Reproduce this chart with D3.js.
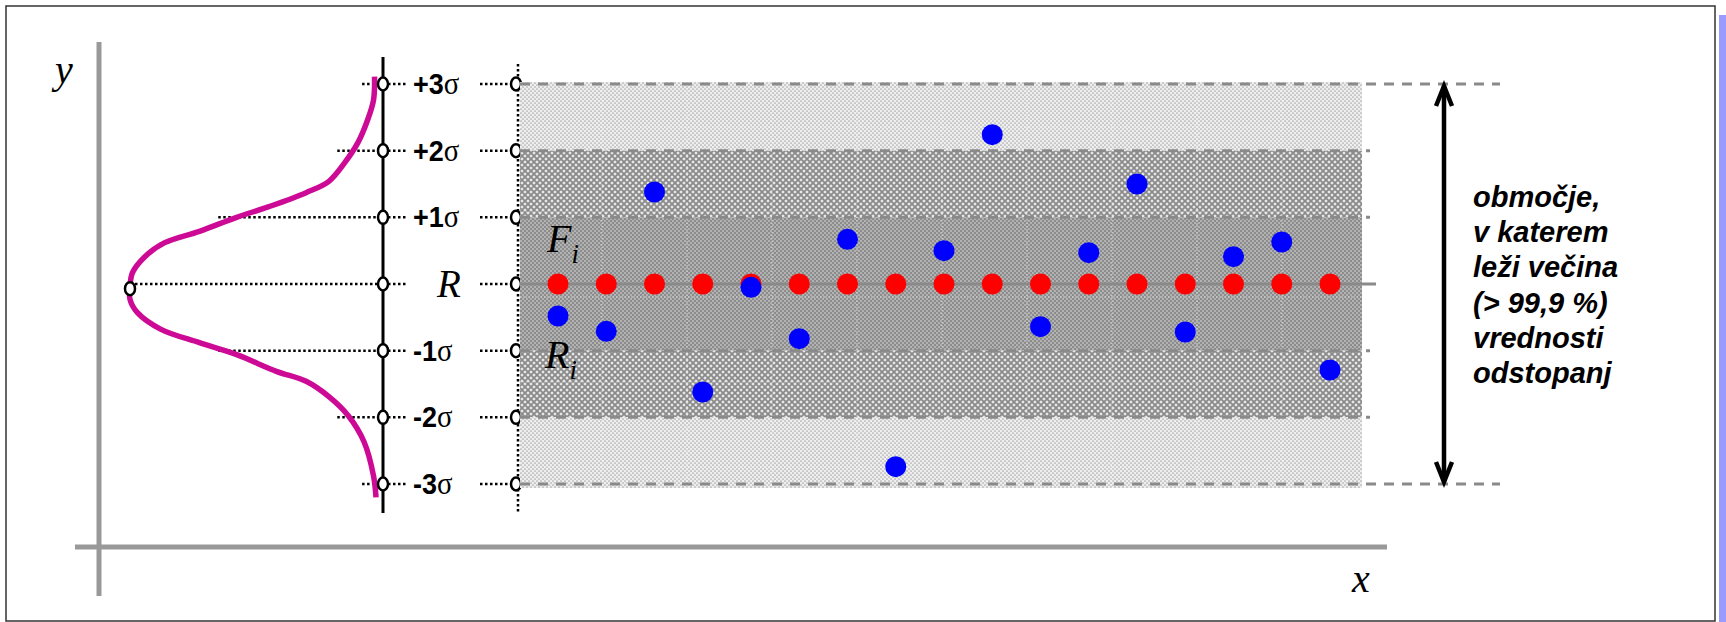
<!DOCTYPE html>
<html>
<head>
<meta charset="utf-8">
<script src="https://cdn.jsdelivr.net/npm/d3@7"></script>
<style>
  body { margin: 0; background: #fff; }
</style>
</head>
<body>
<div id="chart"></div>
<script>
// chart data

var levels = [3, 2, 1, 0, -1, -2, -3];
var levelText = ["+3", "+2", "+1", "R", "-1", "-2", "-3"];
// where the dotted leader starts on the left, in density units
var leaderStart = [0.04, 0.14, 0.62, 1.0, 0.62, 0.14, 0.04];

var samples = [1, 2, 3, 4, 5, 6, 7, 8, 9, 10, 11, 12, 13, 14, 15, 16, 17];
var refValues = [0, 0, 0, 0, 0, 0, 0, 0, 0, 0, 0, 0, 0, 0, 0, 0, 0];
var devValues = [-0.48, -0.71, 1.38, -1.62, -0.05, -0.82, 0.67, -2.74, 0.50, 2.24,
  -0.64, 0.47, 1.50, -0.72, 0.41, 0.63, -1.29];

// bell curve, sigma vs. relative density
var curveSigma = [3.11, 2.76, 2.46, 2.12, 1.82, 1.54, 1.37, 1.16, 1.00, 0.79, 0.62, 0.41, 0.17,
  -0.04, -0.23, -0.43, -0.68, -0.88, -1.06, -1.31, -1.46, -1.69, -1.98, -2.37, -2.88, -3.20];
var curveDensity = [0.014, 0.018, 0.042, 0.081, 0.134, 0.198, 0.29, 0.44, 0.57, 0.72, 0.86, 0.94, 0.99,
  1.00, 1.00, 0.97, 0.875, 0.72, 0.57, 0.41, 0.29, 0.198, 0.119, 0.056, 0.018, 0.008];

var zoneTop = [3, 2, 1, -1, -2];
var zoneBottom = [2, 1, -1, -2, -3];
var zoneFill = ["dots", "cross", "checker", "cross", "dots"];

var noteLines = ["območje,", "v katerem", "leži večina", "(> 99,9 %)", "vrednosti", "odstopanj"];

var svgWidth = 1726;
var svgHeight = 622;

var svg = d3.select("#chart")
  .append("svg")
  .attr("width", svgWidth)
  .attr("height", svgHeight);

// scales

var yScale = d3.scaleLinear().domain([-3, 3]).range([484, 84]);
var xScale = d3.scaleLinear().domain([1, 17]).range([558, 1330]);
var densScale = d3.scaleLinear().domain([0, 1]).range([378, 130]);

var axisX = 383;      // black sigma axis
var colX = 516;       // second column of circles
var bandLeft = 520;
var bandRight = 1362;

// patterns

var defs = svg.append("defs");

var p1 = defs.append("pattern").attr("id", "dots")
  .attr("patternUnits", "userSpaceOnUse").attr("width", 4).attr("height", 4);
p1.append("rect").attr("width", 4).attr("height", 4).attr("fill", "#eeeeee");
p1.append("circle").attr("cx", 1).attr("cy", 1).attr("r", 0.85).attr("fill", "#aaaaaa");
p1.append("circle").attr("cx", 3).attr("cy", 3).attr("r", 0.85).attr("fill", "#aaaaaa");

var p2 = defs.append("pattern").attr("id", "cross")
  .attr("patternUnits", "userSpaceOnUse").attr("width", 6).attr("height", 6);
p2.append("rect").attr("width", 6).attr("height", 6).attr("fill", "#a4a4a4");
p2.append("path").attr("d", "M0,0L6,6M6,0L0,6").attr("stroke", "#8a8a8a").attr("stroke-width", 1);
[[0, 3], [6, 3], [3, 0], [3, 6]].forEach(function (c) {
  p2.append("circle").attr("cx", c[0]).attr("cy", c[1]).attr("r", 1.1).attr("fill", "#f6f6f6");
});

var p3 = defs.append("pattern").attr("id", "checker")
  .attr("patternUnits", "userSpaceOnUse").attr("width", 4).attr("height", 4);
p3.append("rect").attr("width", 4).attr("height", 4).attr("fill", "#8c8c8c");
p3.append("rect").attr("width", 2).attr("height", 2).attr("fill", "#b2b2b2");
p3.append("rect").attr("x", 2).attr("y", 2).attr("width", 2).attr("height", 2).attr("fill", "#b2b2b2");

// frame

svg.append("rect")
  .attr("x", 6).attr("y", 6)
  .attr("width", 1709).attr("height", 615)
  .attr("fill", "none")
  .attr("stroke", "#333")
  .attr("stroke-width", 1.5);

svg.append("rect")
  .attr("x", 1719).attr("y", 15)
  .attr("width", 7).attr("height", 607)
  .attr("fill", "#9a9aff");

// gray x / y axes

svg.append("line")
  .attr("x1", 99).attr("x2", 99).attr("y1", 42).attr("y2", 596)
  .attr("stroke", "#999").attr("stroke-width", 5);

svg.append("line")
  .attr("x1", 75).attr("x2", 1387).attr("y1", 547).attr("y2", 547)
  .attr("stroke", "#999").attr("stroke-width", 5);

svg.append("text")
  .attr("x", 55).attr("y", 83)
  .style("font-family", "Liberation Serif, serif")
  .style("font-style", "italic")
  .style("font-size", "40px")
  .text("y");

svg.append("text")
  .attr("x", 1352).attr("y", 592)
  .style("font-family", "Liberation Serif, serif")
  .style("font-style", "italic")
  .style("font-size", "40px")
  .text("x");

// dotted leaders

var leaders = svg.append("g")
  .attr("stroke", "#000")
  .attr("stroke-width", 2.5)
  .attr("stroke-dasharray", "2.5,2.5");

levels.forEach(function (lv, i) {
  var y = yScale(lv);
  leaders.append("line")
    .attr("x1", densScale(leaderStart[i]) - (i == 3 ? 0 : 6)).attr("x2", axisX)
    .attr("y1", y).attr("y2", y);
  leaders.append("line")
    .attr("x1", axisX).attr("x2", 408)
    .attr("y1", y).attr("y2", y);
  leaders.append("line")
    .attr("x1", 480).attr("x2", colX)
    .attr("y1", y).attr("y2", y);
});

leaders.append("line")
  .attr("x1", 518).attr("x2", 518).attr("y1", 64).attr("y2", 512);

// black sigma axis

svg.append("line")
  .attr("x1", axisX).attr("x2", axisX).attr("y1", 57).attr("y2", 513)
  .attr("stroke", "#000").attr("stroke-width", 3);

// bell curve

var curvePoints = curveSigma.map(function (s, i) { return [s, curveDensity[i]]; });

var curveLine = d3.line()
  .x(d => densScale(d[1]))
  .y(d => yScale(d[0]))
  .curve(d3.curveCatmullRom);

svg.append("path")
  .datum(curvePoints)
  .attr("d", curveLine)
  .attr("fill", "none")
  .attr("stroke", "#cc0a96")
  .attr("stroke-width", 5.5);

// circles on the axes

var peak = curvePoints[d3.maxIndex(curvePoints, d => d[1])];

svg.append("ellipse")
  .attr("cx", densScale(peak[1])).attr("cy", yScale(peak[0]) + 2)
  .attr("rx", 5).attr("ry", 6.5)
  .attr("fill", "#fff").attr("stroke", "#000").attr("stroke-width", 2.5);

svg.selectAll(".axisDot")
  .data(levels)
  .enter()
  .append("ellipse")
  .attr("cx", axisX).attr("cy", d => yScale(d))
  .attr("rx", 5).attr("ry", 6.5)
  .attr("fill", "#fff").attr("stroke", "#000").attr("stroke-width", 2.5);

svg.selectAll(".colDot")
  .data(levels)
  .enter()
  .append("ellipse")
  .attr("cx", colX).attr("cy", d => yScale(d))
  .attr("rx", 5).attr("ry", 6.5)
  .attr("fill", "#fff").attr("stroke", "#000").attr("stroke-width", 2.5);

// sigma labels

var labels = svg.selectAll(".lvl")
  .data(levels)
  .enter()
  .append("text")
  .attr("transform", (d, i) => i == 3
    ? `translate(437, ${yScale(d) + 13})`
    : `translate(413, ${yScale(d) + 10}) scale(0.9, 1)`);

labels.each(function (d, i) {
  var t = d3.select(this);
  if (d == 0) {
    t.style("font-family", "Liberation Serif, serif")
      .style("font-style", "italic")
      .style("font-size", "39px")
      .text(levelText[i]);
  } else {
    t.append("tspan")
      .style("font-family", "Liberation Sans, Arial, sans-serif")
      .style("font-weight", "bold")
      .style("font-size", "30px")
      .text(levelText[i]);
    t.append("tspan")
      .style("font-family", "Liberation Serif, serif")
      .style("font-size", "32px")
      .text("σ");
  }
});

// shaded zones

svg.selectAll(".zone")
  .data(zoneTop)
  .enter()
  .append("rect")
  .attr("x", bandLeft)
  .attr("y", d => yScale(d) - (d == 3 ? 2 : 0))
  .attr("width", bandRight - bandLeft)
  .attr("height", (d, i) => yScale(zoneBottom[i]) - yScale(d) + (i == 4 ? 4 : 0) + (d == 3 ? 2 : 0))
  .attr("fill", (d, i) => "url(#" + zoneFill[i] + ")");

// faint grid inside the band

var grid = svg.append("g")
  .attr("stroke", "#fff")
  .attr("stroke-opacity", 0.55)
  .attr("stroke-width", 1)
  .attr("stroke-dasharray", "1,2");

d3.range(602, bandRight, 85).forEach(function (gx) {
  grid.append("line").attr("x1", gx).attr("x2", gx)
    .attr("y1", yScale(3) - 2).attr("y2", yScale(-3) + 4);
});
d3.range(127, 480, 85).forEach(function (gy) {
  grid.append("line").attr("x1", bandLeft).attr("x2", bandRight)
    .attr("y1", gy).attr("y2", gy);
});

// dashed limits and the R line

var dashed = svg.append("g")
  .attr("stroke", "#8a8a8a")
  .attr("stroke-width", 3)
  .attr("stroke-dasharray", "10,8");

levels.forEach(function (lv) {
  if (lv == 0) return;
  var end = Math.abs(lv) == 3 ? 1500 : 1370;
  dashed.append("line")
    .attr("x1", bandLeft).attr("x2", end)
    .attr("y1", yScale(lv)).attr("y2", yScale(lv));
});

svg.append("line")
  .attr("x1", bandLeft).attr("x2", 1376)
  .attr("y1", yScale(0)).attr("y2", yScale(0))
  .attr("stroke", "#8a8a8a").attr("stroke-width", 3);

// F_i and R_i

function subLabel(x, y, main) {
  var t = svg.append("text")
    .attr("x", x).attr("y", y)
    .style("font-family", "Liberation Serif, serif")
    .style("font-style", "italic")
    .style("font-size", "40px");
  t.append("tspan").text(main);
  t.append("tspan").attr("dy", 11).style("font-size", "27px").text("i");
}
subLabel(547, 252, "F");
subLabel(545, 368, "R");

// points

svg.selectAll(".ref")
  .data(samples)
  .enter()
  .append("circle")
  .attr("cx", d => xScale(d))
  .attr("cy", (d, i) => yScale(refValues[i]))
  .attr("r", 10.5)
  .attr("fill", "#ff0000");

svg.selectAll(".dev")
  .data(samples)
  .enter()
  .append("circle")
  .attr("cx", d => xScale(d))
  .attr("cy", (d, i) => yScale(devValues[i]))
  .attr("r", 10.5)
  .attr("fill", "#0000ff");

// double arrow

var arrowX = 1444;
var arrow = svg.append("g")
  .attr("stroke", "#000")
  .attr("fill", "none")
  .attr("stroke-width", 4.5);

arrow.append("line")
  .attr("x1", arrowX).attr("x2", arrowX)
  .attr("y1", yScale(3) + 2).attr("y2", yScale(-3) - 2);

arrow.append("polyline")
  .attr("points", [[arrowX - 8, yScale(3) + 22], [arrowX, yScale(3) + 2], [arrowX + 8, yScale(3) + 22]].join(" "));

arrow.append("polyline")
  .attr("points", [[arrowX - 8, yScale(-3) - 22], [arrowX, yScale(-3) - 2], [arrowX + 8, yScale(-3) - 22]].join(" "));

// note text

svg.append("g")
  .selectAll("text")
  .data(noteLines)
  .enter()
  .append("text")
  .attr("x", 1473)
  .attr("y", (d, i) => 207 + i * 35.2)
  .style("font-family", "Liberation Sans, Arial, sans-serif")
  .style("font-weight", "bold")
  .style("font-style", "italic")
  .style("font-size", "29px")
  .text(d => d);
</script>
</body>
</html>
